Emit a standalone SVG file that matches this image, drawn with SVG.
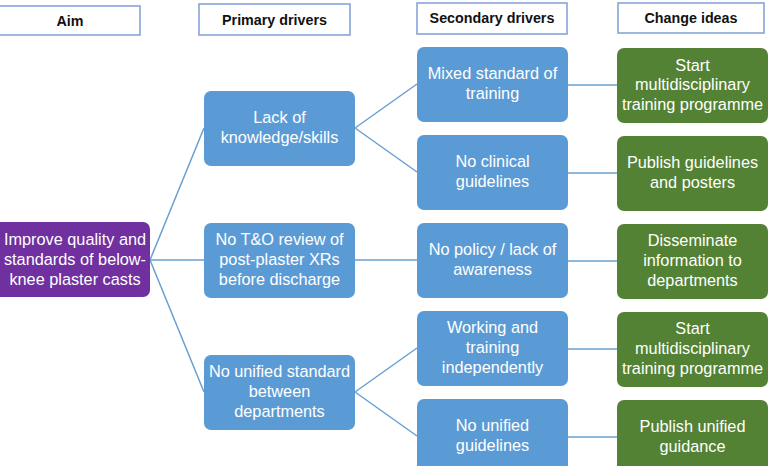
<svg xmlns="http://www.w3.org/2000/svg" width="779" height="466" viewBox="0 0 779 466">
<style>
.hdr{fill:#fff;stroke:#7f9fd6;stroke-width:1.5}
.ht{font-family:"Liberation Sans",Arial,sans-serif;font-size:14.3px;font-weight:bold;fill:#111;text-anchor:middle}
.nt{font-family:"Liberation Sans",Arial,sans-serif;font-size:16.3px;fill:#fff;text-anchor:middle}
.blue{fill:#5b9bd5}
.green{fill:#548235}
.purple{fill:#7030a0}
.conn line{stroke:#6a9fd3;stroke-width:1.5}
</style>
<rect width="779" height="466" fill="#fff"/>
<g id="h-aim"><rect class="hdr" x="-2" y="6" width="142" height="29"/><text class="ht" x="70" y="26">Aim</text></g>
<g id="h-primary"><rect class="hdr" x="199" y="4" width="151" height="31"/><text class="ht" x="274.5" y="25">Primary drivers</text></g>
<g id="h-secondary"><rect class="hdr" x="417" y="3" width="150" height="31"/><text class="ht" x="492" y="23">Secondary drivers</text></g>
<g id="h-change"><rect class="hdr" x="618" y="3" width="146" height="30"/><text class="ht" x="691" y="23">Change ideas</text></g>
<g class="conn" id="connectors">
<line x1="150" y1="260" x2="204" y2="128"/>
<line x1="150" y1="260" x2="204" y2="260"/>
<line x1="150" y1="260" x2="204" y2="392"/>
<line x1="355" y1="128" x2="417" y2="84"/>
<line x1="355" y1="128" x2="417" y2="172"/>
<line x1="355" y1="260" x2="417" y2="260"/>
<line x1="355" y1="392" x2="417" y2="348"/>
<line x1="355" y1="392" x2="417" y2="436"/>
<line x1="568" y1="85" x2="617" y2="85"/>
<line x1="568" y1="173" x2="617" y2="173"/>
<line x1="568" y1="261" x2="617" y2="261"/>
<line x1="568" y1="349" x2="617" y2="349"/>
<line x1="568" y1="437" x2="617" y2="437"/>
</g>
<g id="aim"><rect class="purple" x="-6" y="222" width="156" height="75" rx="7"/>
<text class="nt" x="75" y="245">Improve quality and</text><text class="nt" x="75" y="265">standards of below-</text><text class="nt" x="75" y="285">knee plaster casts</text></g>
<g id="p1"><rect class="blue" x="204" y="91" width="151" height="75" rx="7"/>
<text class="nt" x="279.5" y="123">Lack of</text><text class="nt" x="279.5" y="143">knowledge/skills</text></g>
<g id="p2"><rect class="blue" x="204" y="223" width="151" height="75" rx="7"/>
<text class="nt" x="279.5" y="245">No T&amp;O review of</text><text class="nt" x="279.5" y="265">post-plaster XRs</text><text class="nt" x="279.5" y="285">before discharge</text></g>
<g id="p3"><rect class="blue" x="204" y="355" width="151" height="75" rx="7"/>
<text class="nt" x="279.5" y="377">No unified standard</text><text class="nt" x="279.5" y="397">between</text><text class="nt" x="279.5" y="417">departments</text></g>
<g id="s1"><rect class="blue" x="417" y="47" width="151" height="75" rx="7"/>
<text class="nt" x="492.5" y="79">Mixed standard of</text><text class="nt" x="492.5" y="99">training</text></g>
<g id="s2"><rect class="blue" x="417" y="135" width="151" height="75" rx="7"/>
<text class="nt" x="492.5" y="167">No clinical</text><text class="nt" x="492.5" y="187">guidelines</text></g>
<g id="s3"><rect class="blue" x="417" y="223" width="151" height="75" rx="7"/>
<text class="nt" x="492.5" y="255">No policy / lack of</text><text class="nt" x="492.5" y="275">awareness</text></g>
<g id="s4"><rect class="blue" x="417" y="311" width="151" height="75" rx="7"/>
<text class="nt" x="492.5" y="333">Working and</text><text class="nt" x="492.5" y="353">training</text><text class="nt" x="492.5" y="373">independently</text></g>
<g id="s5"><rect class="blue" x="417" y="399" width="151" height="75" rx="7"/>
<text class="nt" x="492.5" y="431">No unified</text><text class="nt" x="492.5" y="451">guidelines</text></g>
<g id="c1"><rect class="green" x="617" y="48" width="151" height="75" rx="7"/>
<text class="nt" x="692.5" y="71">Start</text><text class="nt" x="692.5" y="90">multidisciplinary</text><text class="nt" x="692.5" y="110">training programme</text></g>
<g id="c2"><rect class="green" x="617" y="136" width="151" height="75" rx="7"/>
<text class="nt" x="692.5" y="168">Publish guidelines</text><text class="nt" x="692.5" y="188">and posters</text></g>
<g id="c3"><rect class="green" x="617" y="224" width="151" height="75" rx="7"/>
<text class="nt" x="692.5" y="246">Disseminate</text><text class="nt" x="692.5" y="266">information to</text><text class="nt" x="692.5" y="286">departments</text></g>
<g id="c4"><rect class="green" x="617" y="312" width="151" height="75" rx="7"/>
<text class="nt" x="692.5" y="334">Start</text><text class="nt" x="692.5" y="354">multidisciplinary</text><text class="nt" x="692.5" y="374">training programme</text></g>
<g id="c5"><rect class="green" x="617" y="400" width="151" height="75" rx="7"/>
<text class="nt" x="692.5" y="432">Publish unified</text><text class="nt" x="692.5" y="452">guidance</text></g>
</svg>
